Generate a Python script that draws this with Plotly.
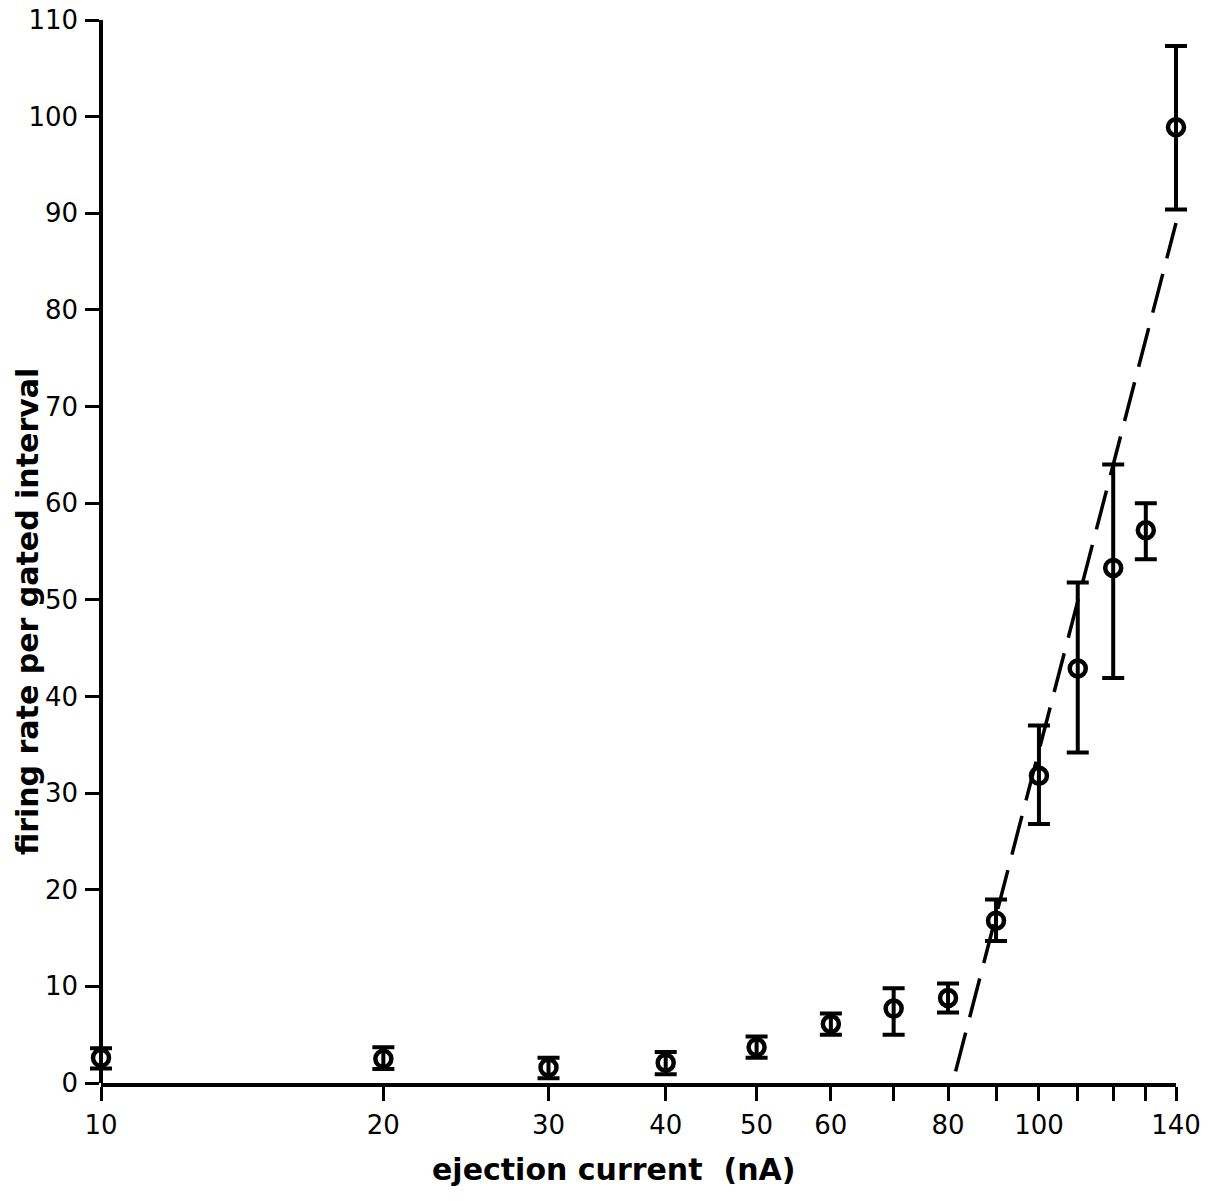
import plotly.graph_objects as go

# Ejection current (nA) and mean firing rate per gated interval
current = [10, 20, 30, 40, 50, 60, 70, 80, 90, 100, 110, 120, 130, 140]
rate = [2.6, 2.5, 1.6, 2.1, 3.7, 6.1, 7.7, 8.8, 16.8, 31.8, 42.9, 53.3, 57.2, 98.9]
rate_upper = [3.6, 3.7, 2.6, 3.2, 4.8, 7.2, 9.8, 10.3, 19.0, 37.0, 51.8, 64.0, 60.0, 107.3]
rate_lower = [1.5, 1.45, 0.5, 0.9, 2.6, 5.0, 5.0, 7.3, 14.7, 26.8, 34.2, 41.9, 54.2, 90.4]

# Linear fit segment drawn as a dashed line
fit_current = [81.5, 140]
fit_rate = [1.2, 89.0]

# Axis ticks
x_tickvals = [10, 20, 30, 40, 50, 60, 70, 80, 90, 100, 110, 120, 130, 140]
x_ticktext = ["10", "20", "30", "40", "50", "60", "", "80", "", "100", "", "", "", "140"]
y_tickvals = [0, 10, 20, 30, 40, 50, 60, 70, 80, 90, 100, 110]

err_plus = [u - r for u, r in zip(rate_upper, rate)]
err_minus = [r - l for r, l in zip(rate, rate_lower)]

# Layout geometry (pixels): visible axis spans 101..1176; the marker layer is a bit
# wider so error-bar caps at 10 and 140 are not cut by the plot-area clip.
W, H = 1219, 1201
L_DATA, R_DATA = 89, 1188
L_AX, R_AX = 101, 1176
x_lo, x_hi = 1.0, 2.14613  # log10(10), log10(140)
px_per_dec = (R_AX - L_AX) / (x_hi - x_lo)
data_lo = x_lo - (L_AX - L_DATA) / px_per_dec
data_hi = x_hi + (R_DATA - R_AX) / px_per_dec
span = R_DATA - L_DATA
ax_domain = [(L_AX - L_DATA) / span, (R_AX - L_DATA) / span]


def paper_x(px):
    return (px - L_DATA) / span


fig = go.Figure()

fig.add_trace(go.Scatter(
    x=fit_current, y=fit_rate, mode="lines", xaxis="x2", yaxis="y",
    line=dict(color="black", width=3.5, dash="40px,16px"),
    hoverinfo="skip", showlegend=False,
))

fig.add_trace(go.Scatter(
    x=current, y=rate, mode="markers", xaxis="x2", yaxis="y",
    marker=dict(symbol="circle-open", size=16, color="black", line=dict(width=4.5, color="black")),
    error_y=dict(type="data", symmetric=False, array=err_plus, arrayminus=err_minus,
                 color="black", thickness=4, width=11),
    cliponaxis=False, showlegend=False,
))

# Invisible anchor trace so the visible axis pair gets its own subplot
fig.add_trace(go.Scatter(
    x=[10], y=[0], mode="markers", xaxis="x", yaxis="y",
    marker=dict(opacity=0), hoverinfo="skip", showlegend=False,
))

tick_font = dict(family="DejaVu Sans", size=26, color="black")
title_font = dict(family="DejaVu Sans", size=30, color="black", weight="bold")

fig.update_layout(
    xaxis=dict(
        type="log", range=[x_lo, x_hi], domain=ax_domain, tickmode="array",
        tickvals=x_tickvals, ticktext=x_ticktext,
        showline=True, linecolor="black", linewidth=3.5,
        ticks="outside", ticklen=14, tickwidth=3, tickcolor="black",
        tickfont=tick_font, ticklabelstandoff=2, automargin=False,
        showgrid=False, zeroline=False, anchor="y",
    ),
    xaxis2=dict(
        type="log", range=[data_lo, data_hi], domain=[0, 1],
        visible=False, showgrid=False, zeroline=False, anchor="y",
        automargin=False,
    ),
    yaxis=dict(
        range=[0, 110], tickmode="array", tickvals=y_tickvals,
        showline=True, linecolor="black", linewidth=3.5,
        ticks="outside", ticklen=14, tickwidth=3, tickcolor="black",
        tickfont=tick_font, ticklabelstandoff=2, automargin=False,
        showgrid=False, zeroline=False,
        anchor="free", position=ax_domain[0],
    ),
    width=W, height=H,
    margin=dict(l=L_DATA, r=W - R_DATA, t=20, b=118),
    paper_bgcolor="white", plot_bgcolor="rgba(0,0,0,0)",
)

fig.add_annotation(
    text="firing rate per gated interval", textangle=-90,
    xref="paper", yref="paper", x=paper_x(27), y=0.443,
    xanchor="center", yanchor="middle", showarrow=False, font=title_font,
)
fig.add_annotation(
    text="ejection current  (nA)",
    xref="paper", yref="paper", x=paper_x(613), y=-0.081,
    xanchor="center", yanchor="middle", showarrow=False, font=title_font,
)

fig.write_html("out.html")
